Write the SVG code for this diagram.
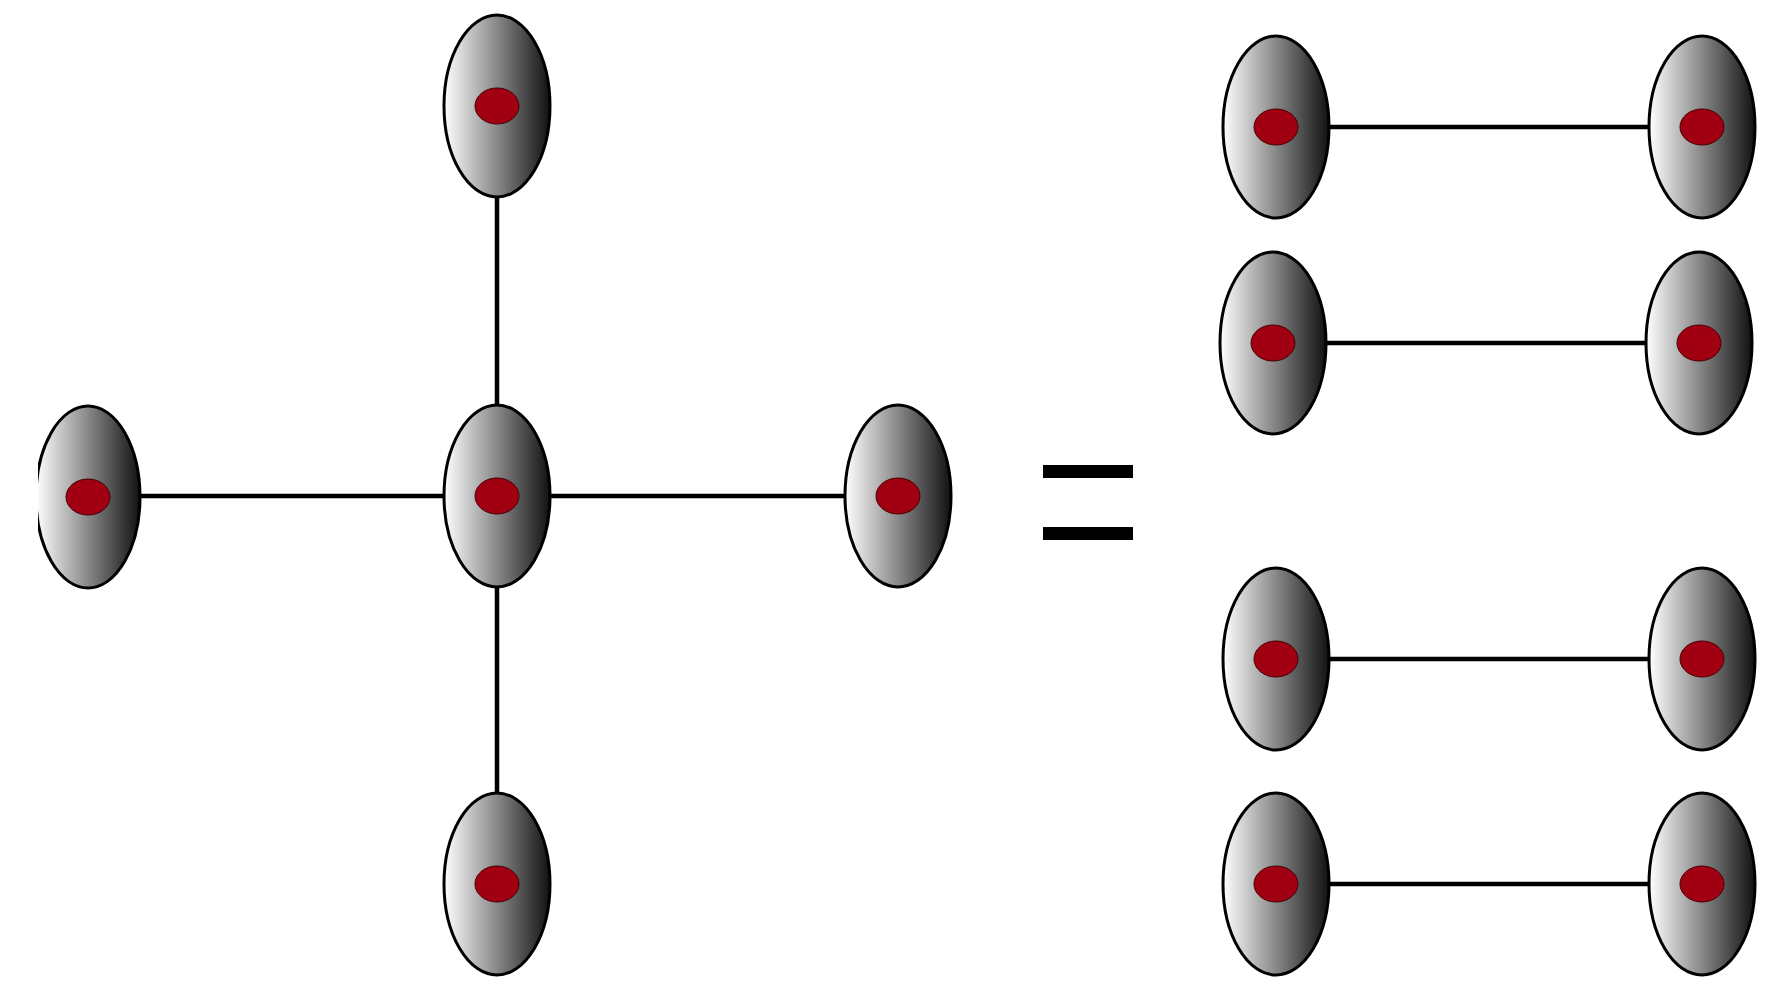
<svg xmlns="http://www.w3.org/2000/svg" width="1781" height="1008" viewBox="0 0 1781 1008">
<defs>
<linearGradient id="g" x1="0" y1="0" x2="1" y2="0"><stop offset="0" stop-color="#fff"/><stop offset="0.5" stop-color="#888"/><stop offset="1" stop-color="#111"/></linearGradient>
<clipPath id="c"><rect x="38" y="0" width="1781" height="1008"/></clipPath>
</defs>
<style>.n{fill:url(#g);stroke:#000;stroke-width:3}.d{fill:#a00012;stroke:#400;stroke-width:1}.l{stroke:#000;stroke-width:4.5}</style>
<rect width="1781" height="1008" fill="#fff"/>
<g id="connectors">
<line class="l" x1="497" y1="106" x2="497" y2="884"/>
<line class="l" x1="88" y1="496" x2="898" y2="496"/>
<line class="l" x1="1276" y1="127" x2="1702" y2="127"/>
<line class="l" x1="1273" y1="343" x2="1699" y2="343"/>
<line class="l" x1="1276" y1="659" x2="1702" y2="659"/>
<line class="l" x1="1276" y1="884" x2="1702" y2="884"/>
</g>
<g id="center"><ellipse class="n" cx="497" cy="496" rx="53" ry="91"/><ellipse class="d" cx="497" cy="496" rx="22" ry="18"/></g>
<g id="top"><ellipse class="n" cx="497" cy="106" rx="53" ry="91"/><ellipse class="d" cx="497" cy="106" rx="22" ry="18"/></g>
<g id="bottom"><ellipse class="n" cx="497" cy="884" rx="53" ry="91"/><ellipse class="d" cx="497" cy="884" rx="22" ry="18"/></g>
<g id="left" clip-path="url(#c)"><ellipse class="n" cx="88" cy="497" rx="52" ry="91"/><ellipse class="d" cx="88" cy="497" rx="22" ry="18"/></g>
<g id="right"><ellipse class="n" cx="898" cy="496" rx="53" ry="91"/><ellipse class="d" cx="898" cy="496" rx="22" ry="18"/></g>
<g id="equals"><rect x="1043" y="465" width="90" height="13"/><rect x="1043" y="527" width="90" height="13"/></g>
<g id="p1a"><ellipse class="n" cx="1276" cy="127" rx="53" ry="91"/><ellipse class="d" cx="1276" cy="127" rx="22" ry="18"/></g>
<g id="p1b"><ellipse class="n" cx="1702" cy="127" rx="53" ry="91"/><ellipse class="d" cx="1702" cy="127" rx="22" ry="18"/></g>
<g id="p2a"><ellipse class="n" cx="1273" cy="343" rx="53" ry="91"/><ellipse class="d" cx="1273" cy="343" rx="22" ry="18"/></g>
<g id="p2b"><ellipse class="n" cx="1699" cy="343" rx="53" ry="91"/><ellipse class="d" cx="1699" cy="343" rx="22" ry="18"/></g>
<g id="p3a"><ellipse class="n" cx="1276" cy="659" rx="53" ry="91"/><ellipse class="d" cx="1276" cy="659" rx="22" ry="18"/></g>
<g id="p3b"><ellipse class="n" cx="1702" cy="659" rx="53" ry="91"/><ellipse class="d" cx="1702" cy="659" rx="22" ry="18"/></g>
<g id="p4a"><ellipse class="n" cx="1276" cy="884" rx="53" ry="91"/><ellipse class="d" cx="1276" cy="884" rx="22" ry="18"/></g>
<g id="p4b"><ellipse class="n" cx="1702" cy="884" rx="53" ry="91"/><ellipse class="d" cx="1702" cy="884" rx="22" ry="18"/></g>
</svg>
